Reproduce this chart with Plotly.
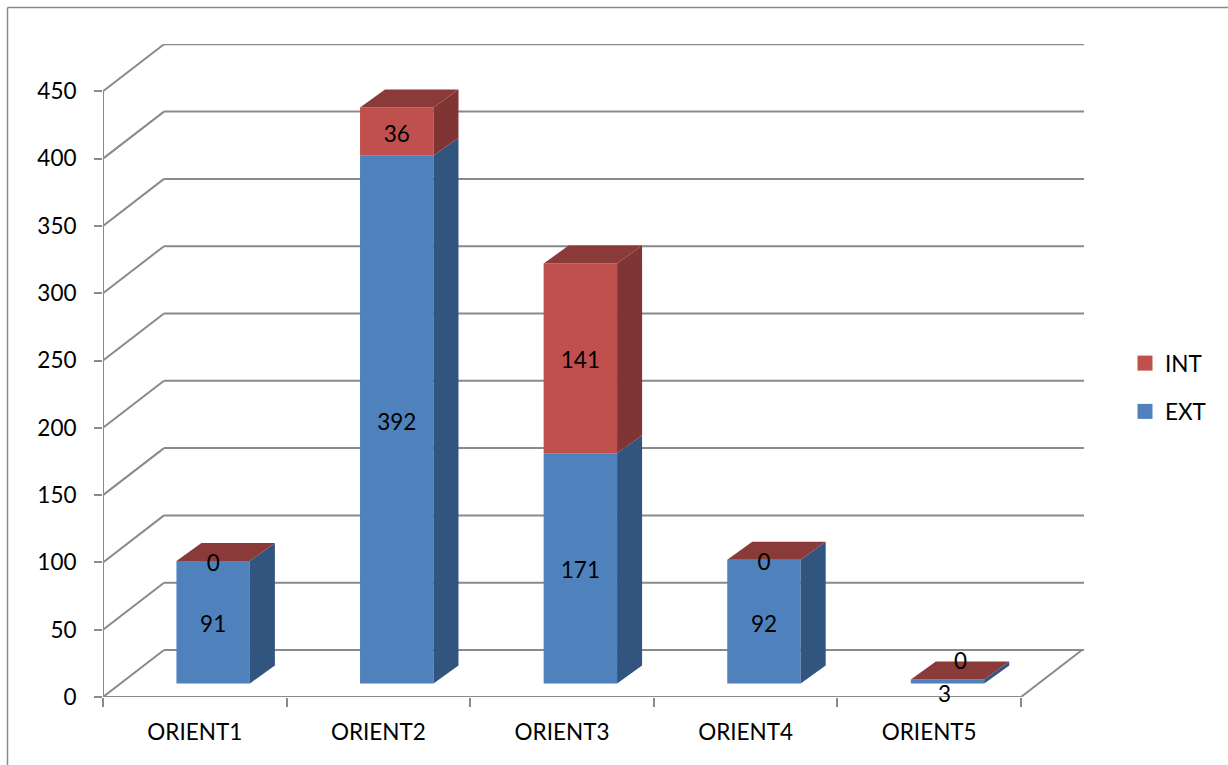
import plotly.graph_objects as go

categories = ["ORIENT1", "ORIENT2", "ORIENT3", "ORIENT4", "ORIENT5"]
ext_values = [91, 392, 171, 92, 3]
int_values = [0, 36, 141, 0, 0]
y_ticks = [0, 50, 100, 150, 200, 250, 300, 350, 400, 450]

W, H = 1228, 765
L, R, T, B = 103, 1084, 44, 697
PX_X = 183.6
PX_Y = 1.346
X_MAX = (R - L) / PX_X
Y_MAX = (B - T) / PX_Y
WALL_DX = 61 / PX_X
WALL_DY = 47 / PX_Y
BAR_SHIFT = 0.6
BAR_W = 0.4
BAR_BASE = 13.5 / PX_Y
SIDE_DX = 25 / PX_X
SIDE_DY = 18 / PX_Y
GRID = "#8A8A8A"
BLUE, BLUE_SIDE = "#4F81BD", "#31557F"
RED, RED_SIDE, RED_TOP = "#C0504D", "#7F3533", "#8A3A38"
INK = "#000000"
FONT = "Lato"
FS = 22.5

centers = [i + BAR_SHIFT for i in range(len(categories))]
fig = go.Figure()

ext_base = [BAR_BASE] * len(categories)
int_base = [b + v for b, v in zip(ext_base, ext_values)]
tops = [b + v for b, v in zip(int_base, int_values)]

fig.add_bar(x=centers, y=ext_values, base=ext_base, width=BAR_W, name="EXT", showlegend=False,
            marker=dict(color=BLUE, line=dict(width=0)), hoverinfo="y")
fig.add_bar(x=centers, y=int_values, base=int_base, width=BAR_W, name="INT", showlegend=False,
            marker=dict(color=RED, line=dict(width=0)), hoverinfo="y")

# legend keys, slightly larger than a bar trace's own swatch
for name, color in (("INT", RED), ("EXT", BLUE)):
    fig.add_scatter(x=[None], y=[None], mode="markers", name=name, legendgroup=name,
                    marker=dict(symbol="square", size=15, color=color, line=dict(width=0)))


def face(xs, ys, color):
    fig.add_scatter(x=xs, y=ys, mode="lines", fill="toself", fillcolor=color,
                    line=dict(width=0, color=color), showlegend=False, hoverinfo="skip")


for c, b0, b1, t in zip(centers, ext_base, int_base, tops):
    xr = c + BAR_W / 2
    xl = c - BAR_W / 2
    face([xr, xr + SIDE_DX, xr + SIDE_DX, xr, xr],
         [b0, b0 + SIDE_DY, b1 + SIDE_DY, b1, b0], BLUE_SIDE)
    if t > b1:
        face([xr, xr + SIDE_DX, xr + SIDE_DX, xr, xr],
             [b1, b1 + SIDE_DY, t + SIDE_DY, t, b1], RED_SIDE)
    face([xl, xr, xr + SIDE_DX, xl + SIDE_DX, xl],
         [t, t, t + SIDE_DY, t + SIDE_DY, t], RED_TOP)

# data labels (the two smallest ones are nudged clear of the thin bar, as in the reference)
LABEL_DROP = 3.2
ext_nudge = [0, 0, 0, 0, -8]
int_nudge = [0, 0, 0, 0, 15]
ext_nudge_x = [0, 0, 0, 0, -3 / PX_X]
int_nudge_x = [0, 0, 0, 0, 13 / PX_X]
lab_x = [c + n for c, n in zip(centers, ext_nudge_x)] + [c + n for c, n in zip(centers, int_nudge_x)]
lab_y = [b + v / 2 + n - LABEL_DROP for b, v, n in zip(ext_base, ext_values, ext_nudge)] + \
        [b + v / 2 + n - LABEL_DROP for b, v, n in zip(int_base, int_values, int_nudge)]
lab_t = [str(v) for v in ext_values + int_values]
fig.add_scatter(x=lab_x, y=lab_y, text=lab_t, mode="text", textposition="middle center",
                cliponaxis=False,
                textfont=dict(family=FONT, size=FS, color=INK), showlegend=False, hoverinfo="skip")

shapes = []


def seg(x0, y0, x1, y1):
    shapes.append(dict(type="line", xref="x", yref="y", x0=x0, y0=y0, x1=x1, y1=y1,
                       layer="below", line=dict(color=GRID, width=2)))


for v in y_ticks:
    seg(0, v, WALL_DX, v + WALL_DY)
    seg(WALL_DX, v + WALL_DY, X_MAX, v + WALL_DY)
seg(0, 0, 0, y_ticks[-1])
seg(0, 0, len(categories), 0)
seg(len(categories), 0, len(categories) + WALL_DX, WALL_DY)

# chart-area frame: top and left edges only
frame = dict(color=GRID, width=1.5)
shapes.append(dict(type="line", xref="paper", yref="paper", x0=(7.5 - L) / (R - L), x1=(W - L) / (R - L),
                   y0=(B - 7.5) / (B - T), y1=(B - 7.5) / (B - T), line=frame, layer="above"))
shapes.append(dict(type="line", xref="paper", yref="paper", x0=(7.5 - L) / (R - L), x1=(7.5 - L) / (R - L),
                   y0=(B - 7.5) / (B - T), y1=(B - H) / (B - T), line=frame, layer="above"))

fig.update_layout(
    width=W, height=H, autosize=False,
    margin=dict(l=L, r=W - R, t=T, b=H - B, pad=0),
    paper_bgcolor="white", plot_bgcolor="rgba(0,0,0,0)",
    barmode="overlay", shapes=shapes,
    font=dict(family=FONT, size=FS, color=INK),
    legend=dict(x=(1133 - L) / (R - L), y=(B - 342) / (B - T), xanchor="left", yanchor="top",
                traceorder="grouped", tracegroupgap=16, itemwidth=30, indentation=-8,
                bgcolor="rgba(0,0,0,0)", font=dict(family=FONT, size=FS, color=INK)),
    xaxis=dict(range=[0, X_MAX], tickmode="array",
               tickvals=[i + 0.5 for i in range(len(categories))], ticktext=categories,
               ticks="", showgrid=False, zeroline=False, showline=False, ticklabelstandoff=19,
               minor=dict(tickmode="array", tickvals=list(range(len(categories) + 1)), ticks="outside",
                          ticklen=9, tickwidth=1.7, tickcolor=GRID, showgrid=False),
               tickfont=dict(family=FONT, size=FS, color=INK), fixedrange=True),
    yaxis=dict(range=[0, Y_MAX], tickmode="array", tickvals=y_ticks,
               ticks="outside", ticklen=8, tickwidth=1.7, tickcolor=GRID, ticklabelstandoff=13,
               showgrid=False, zeroline=False, showline=False,
               tickfont=dict(family=FONT, size=FS, color=INK), fixedrange=True),
)

fig.write_html("out.html", config={"displayModeBar": False},
               post_script="document.body.style.margin='0';document.documentElement.style.overflow='hidden';")
